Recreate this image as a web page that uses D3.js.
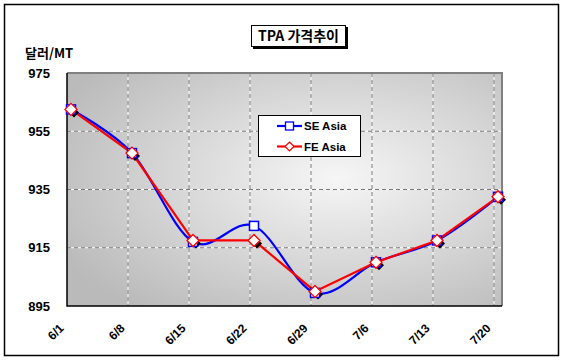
<!DOCTYPE html>
<html>
<head>
<meta charset="utf-8">
<script src="https://d3js.org/d3.v7.min.js"></script>
<style>
  body { margin: 0; background: #fff; }
  text { font-family: "Liberation Sans", Arial, "Noto Sans CJK KR", sans-serif; font-weight: bold; fill: #000; }
  .kr { font-family: "Noto Sans CJK KR", "Liberation Sans", sans-serif; }
</style>
</head>
<body>
<svg id="chart" width="565" height="364"></svg>
<script>
// chart data
var dates = ["6/1", "6/8", "6/15", "6/22", "6/29", "7/6", "7/13", "7/20"];
var seAsia = [962.5, 947.5, 917, 922.5, 899.5, 910, 917.5, 932.5];
var feAsia = [962.5, 947.5, 917.5, 917.5, 900, 910, 917.5, 932.5];
var yTicks = [895, 915, 935, 955, 975];

var svg = d3.select("#chart");
var pLeft = 67, pRight = 502, pTop = 73, pBottom = 306;

// outer frame
svg.append("rect").attr("x", 4.5).attr("y", 4.5).attr("width", 554).attr("height", 351)
    .attr("fill", "#fff").attr("stroke", "#000").attr("stroke-width", 1.5);

// plot background (radial gray gradient)
var defs = svg.append("defs");
var grad = defs.append("radialGradient").attr("id", "bg")
    .attr("cx", "62%").attr("cy", "45%").attr("r", "72%");
grad.append("stop").attr("offset", "0%").attr("stop-color", "#f6f6f6");
grad.append("stop").attr("offset", "100%").attr("stop-color", "#bababa");

svg.append("rect").attr("x", pLeft).attr("y", pTop)
    .attr("width", pRight - pLeft).attr("height", pBottom - pTop)
    .attr("fill", "url(#bg)");

var x = d3.scalePoint().domain(dates).range([pLeft, pLeft + 61 * 7]);
var y = d3.scaleLinear().domain([895, 975]).range([pBottom, pTop]);
var off = 4; // markers sit a little right of the gridlines

// gridlines
var grid = svg.append("g");
dates.slice(1).forEach(function(d) {
    grid.append("line").attr("x1", x(d)).attr("x2", x(d)).attr("y1", pTop).attr("y2", pBottom)
        .attr("stroke", "#fff").attr("stroke-width", 1);
    grid.append("line").attr("x1", x(d)).attr("x2", x(d)).attr("y1", pTop).attr("y2", pBottom)
        .attr("stroke", "#777").attr("stroke-width", 1).attr("stroke-dasharray", "4,3");
});
yTicks.slice(1, -1).forEach(function(v) {
    grid.append("line").attr("x1", pLeft).attr("x2", pRight).attr("y1", y(v)).attr("y2", y(v))
        .attr("stroke", "#fff").attr("stroke-width", 1);
    grid.append("line").attr("x1", pLeft).attr("x2", pRight).attr("y1", y(v)).attr("y2", y(v))
        .attr("stroke", "#777").attr("stroke-width", 1).attr("stroke-dasharray", "4,3");
});

// plot border: gray top/right, black left/bottom
svg.append("path").attr("d", "M" + pLeft + "," + pTop + "H" + pRight + "V" + pBottom)
    .attr("fill", "none").attr("stroke", "#808080").attr("stroke-width", 2);
svg.append("path").attr("d", "M" + pLeft + "," + pTop + "V" + pBottom + "H" + pRight)
    .attr("fill", "none").attr("stroke", "#000").attr("stroke-width", 1.5);

// y axis labels
var yAxis = d3.axisLeft(y).tickValues(yTicks).tickSize(0).tickPadding(17);
svg.append("g").attr("transform", "translate(" + pLeft + ",0)").call(yAxis)
    .call(function(g) { g.select(".domain").remove(); })
    .selectAll("text").attr("font-size", 13)
    .style("font-family", "'Liberation Sans Narrow', 'Liberation Sans', sans-serif")
    .style("font-weight", "bold");

// x axis labels
var xAxis = d3.axisBottom(x).tickSize(0).tickPadding(0);
svg.append("g").attr("transform", "translate(0," + pBottom + ")").call(xAxis)
    .call(function(g) { g.select(".domain").remove(); })
    .selectAll("text")
    .attr("font-size", 12).style("font-weight", "bold")
    .attr("text-anchor", "end")
    .attr("transform", "translate(-6,20) rotate(-45)")
    .attr("dy", "0.35em").attr("y", 0);

// series lines
var smooth = d3.line().x(function(d, i) { return x(dates[i]) + off; }).y(function(d) { return y(d); })
    .curve(d3.curveCatmullRom.alpha(0));
var straight = d3.line().x(function(d, i) { return x(dates[i]) + off; }).y(function(d) { return y(d); });

svg.append("path").datum(seAsia).attr("d", smooth)
    .attr("fill", "none").attr("stroke", "#0000ff").attr("stroke-width", 2.2);
svg.append("path").datum(feAsia).attr("d", straight)
    .attr("fill", "none").attr("stroke", "#ff0000").attr("stroke-width", 2.2);

var diamond = function(cx, cy, r) {
    return "M" + cx + "," + (cy - r) + "L" + (cx + r) + "," + cy + "L" + cx + "," + (cy + r) + "L" + (cx - r) + "," + cy + "Z";
};

// marker shadows
svg.append("g").selectAll("path").data(feAsia).join("path")
    .attr("d", function(d, i) { return diamond(x(dates[i]) + off + 3, y(d) + 3, 5); })
    .attr("fill", "#000");

// SE Asia markers: open squares
svg.append("g").selectAll("rect").data(seAsia).join("rect")
    .attr("x", function(d, i) { return x(dates[i]) + off - 4.5; })
    .attr("y", function(d) { return y(d) - 4.5; })
    .attr("width", 9).attr("height", 9)
    .attr("fill", "#fff").attr("stroke", "#0000ff").attr("stroke-width", 1.5);

// FE Asia markers: open diamonds
svg.append("g").selectAll("path").data(feAsia).join("path")
    .attr("d", function(d, i) { return diamond(x(dates[i]) + off, y(d), 6); })
    .attr("fill", "#fff").attr("stroke", "#ff0000").attr("stroke-width", 1.3);

// legend
var lg = svg.append("g");
lg.append("rect").attr("x", 258.5).attr("y", 115.5).attr("width", 102).attr("height", 41)
    .attr("fill", "#fff").attr("stroke", "#000").attr("stroke-width", 1);
var legendItems = [
    { name: "SE Asia", color: "#0000ff", shape: "square" },
    { name: "FE Asia", color: "#ff0000", shape: "diamond" }
];
legendItems.forEach(function(it, i) {
    var cy = 126 + i * 20.5;
    lg.append("line").attr("x1", 277).attr("x2", 302).attr("y1", cy).attr("y2", cy)
        .attr("stroke", it.color).attr("stroke-width", 2.2);
    if (it.shape === "square") {
        lg.append("rect").attr("x", 285.5).attr("y", cy - 4).attr("width", 8).attr("height", 8)
            .attr("fill", "#fff").attr("stroke", it.color).attr("stroke-width", 1.3);
    } else {
        lg.append("path").attr("d", diamond(289.5, cy, 4.5))
            .attr("fill", "#fff").attr("stroke", it.color).attr("stroke-width", 1.2);
    }
    lg.append("text").attr("x", 304).attr("y", cy).attr("dy", "0.36em")
        .attr("font-size", 11.5).text(it.name);
});

// title box with shadow
svg.append("rect").attr("x", 253).attr("y", 27).attr("width", 95).attr("height", 22).attr("fill", "#000");
svg.append("rect").attr("x", 251.5).attr("y", 25.5).attr("width", 94).attr("height", 21)
    .attr("fill", "#fff").attr("stroke", "#000").attr("stroke-width", 1);
svg.append("text").attr("class", "kr").attr("x", 298.5).attr("y", 36).attr("dy", "0.36em")
    .attr("text-anchor", "middle").attr("font-size", 14).text("TPA 가격추이");

// unit label
svg.append("text").attr("class", "kr").attr("x", 25).attr("y", 53).attr("dy", "0.36em")
    .attr("font-size", 13).text("달러/MT");
</script>
</body>
</html>
